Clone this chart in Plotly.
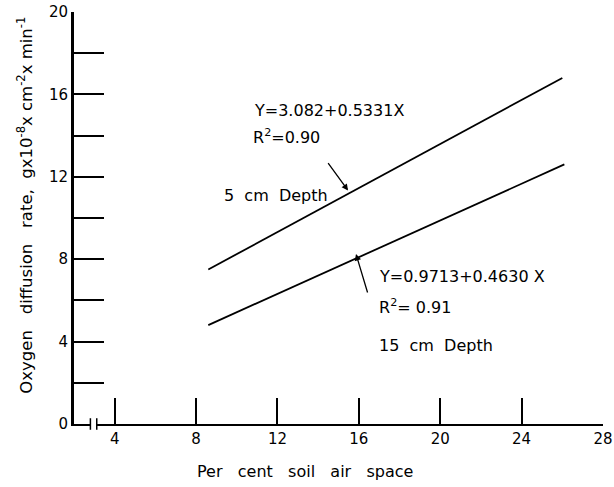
import plotly.graph_objects as go

# Data
x_5cm = [8.6, 26.0]
y_5cm = [7.5, 16.8]
x_15cm = [8.6, 26.1]
y_15cm = [4.8, 12.6]

x_tickvals = [4, 8, 12, 16, 20, 24, 28]
x_ticktext = ["4", "8", "12", "16", "20", "24", "28"]
y_tickvals = [0, 4, 8, 12, 16, 20]
y_ticktext = ["0", "4", "8", "12", "16", "20"]
y_minor_tickvals = [2, 6, 10, 14, 18]

eq_5cm = "Y=3.082+0.5331X"
r2_5cm = "R<sup>2</sup>=0.90"
label_5cm = "5  cm  Depth"
eq_15cm = "Y=0.9713+0.4630 X"
r2_15cm = "R<sup>2</sup>= 0.91"
label_15cm = "15  cm  Depth"

FONT = "DejaVu Sans"

fig = go.Figure()
fig.add_trace(go.Scatter(x=x_5cm, y=y_5cm, mode="lines",
                         line=dict(color="black", width=1.8), showlegend=False))
fig.add_trace(go.Scatter(x=x_15cm, y=y_15cm, mode="lines",
                         line=dict(color="black", width=1.8), showlegend=False))

fig.update_layout(
    width=614, height=487,
    margin=dict(l=74, r=11, t=12, b=63, autoexpand=False),
    paper_bgcolor="white", plot_bgcolor="white",
    font=dict(family=FONT, size=15, color="black"),
    showlegend=False,
)
fig.update_xaxes(
    range=[2.0, 28], showgrid=False, zeroline=False, automargin=False,
    showline=True, linecolor="black", linewidth=2,
    ticks="inside", ticklen=26, tickwidth=1.5, tickcolor="black",
    tickvals=x_tickvals, ticktext=x_ticktext,
    tickfont=dict(family=FONT, size=15),
)
fig.update_yaxes(
    range=[0, 20], showgrid=False, zeroline=False, automargin=False,
    showline=True, linecolor="black", linewidth=3,
    ticks="inside", ticklen=30, tickwidth=1.5, tickcolor="black",
    tickvals=y_tickvals, ticktext=y_ticktext,
    tickfont=dict(family=FONT, size=15),
    minor=dict(tickvals=y_minor_tickvals, ticks="inside", ticklen=30,
               tickwidth=1.5, tickcolor="black", showgrid=False),
)

ann = []
ann.append(dict(text="Oxygen   diffusion   rate,  gx10<sup>-8</sup>x cm<sup>-2</sup>x min<sup>-1</sup>",
                xref="paper", yref="paper", x=-0.0926, y=0.53, textangle=-90,
                showarrow=False, xanchor="center", yanchor="middle",
                font=dict(family=FONT, size=16.5)))
ann.append(dict(text="Per   cent   soil   air   space", xref="paper", yref="paper",
                x=0.437, y=-0.1165, showarrow=False, xanchor="center", yanchor="middle",
                font=dict(family=FONT, size=16)))
for txt, xx, yy in [(eq_5cm, 10.75, 15.24), (r2_5cm, 10.70, 13.98), (label_5cm, 9.27, 11.07),
                    (eq_15cm, 16.89, 7.18), (r2_15cm, 16.89, 5.68), (label_15cm, 16.89, 3.83)]:
    ann.append(dict(text=txt, x=xx, y=yy, xref="x", yref="y", showarrow=False,
                    xanchor="left", yanchor="middle", font=dict(family=FONT, size=16)))
# pointer arrows
ann.append(dict(text="", x=15.47, y=11.33, xref="x", yref="y", showarrow=True,
                ax=-21, ay=-29, arrowhead=2, arrowsize=1, arrowwidth=1.3, arrowcolor="black"))
ann.append(dict(text="", x=15.86, y=8.25, xref="x", yref="y", showarrow=True,
                ax=12, ay=40, arrowhead=2, arrowsize=1, arrowwidth=1.3, arrowcolor="black"))
fig.update_layout(annotations=ann)

# axis break marks on x axis
fig.add_shape(type="rect", xref="paper", yref="paper", x0=0.031, x1=0.043,
              y0=-0.006, y1=0.006, fillcolor="white", line=dict(width=0))
for xp in [0.031, 0.043]:
    fig.add_shape(type="line", xref="paper", yref="paper", x0=xp, x1=xp,
                  y0=-0.014, y1=0.014, line=dict(color="black", width=1.5))

fig.write_html("out.html", config={"displayModeBar": False},
               post_script="document.body.style.margin='0';document.body.style.padding='0';")
